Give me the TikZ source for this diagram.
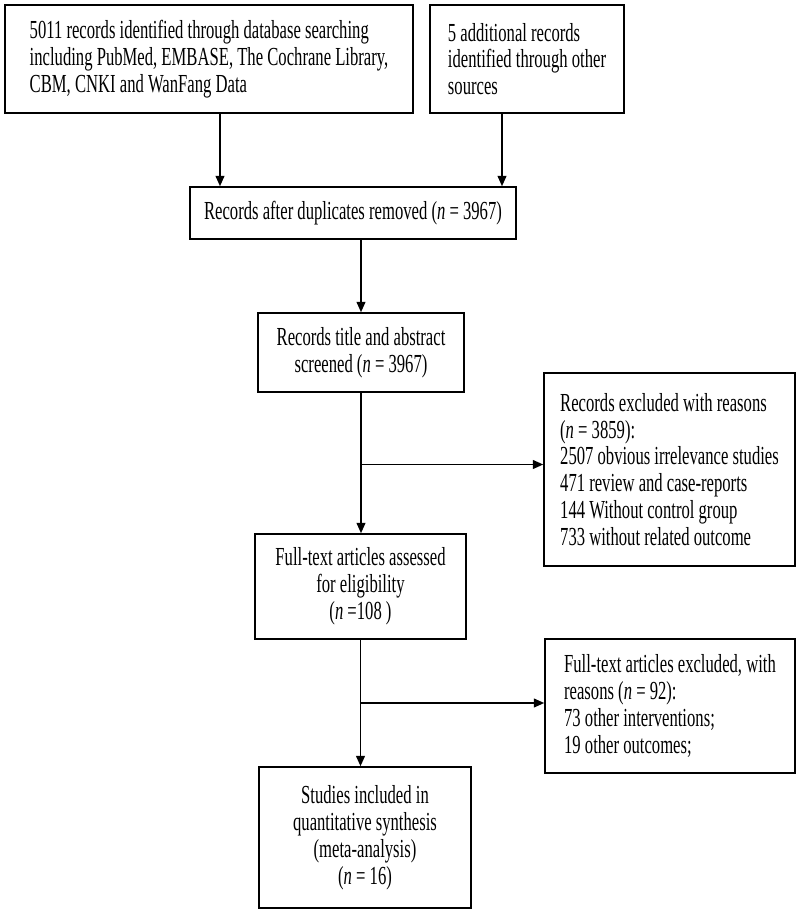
\documentclass[tikz,border=0pt]{standalone}
\usepackage{fontspec}
\setmainfont{Liberation Serif}[FakeStretch=0.64]
\usepackage{tikz}
\usetikzlibrary{arrows.meta}

\tikzset{
  box/.style={draw, line width=0.8pt, inner sep=0pt,
    font=\fontsize{14.8}{15.3}\selectfont},
  arr/.style={line width=1.1pt, -{Triangle[length=6pt,width=5pt]}}
}

\begin{document}
\begin{tikzpicture}
  \useasboundingbox (0,0) rectangle (16,-18.28);

  % Identification
  \node[box, minimum width=8.16cm, minimum height=2.16cm, align=left] (ident) at (4.18,-1.18)
    {5011 records identified through database searching\\including PubMed, EMBASE, The Cochrane Library,\\CBM, CNKI and WanFang Data};
  \node[box, minimum width=3.88cm, minimum height=2.16cm, align=left] (other) at (10.54,-1.18)
    {5 additional records\\identified through other\\sources};

  % Screening
  \node[box, minimum width=6.52cm, minimum height=1.04cm, align=center] (dupl) at (7.06,-4.26)
    {Records after duplicates removed (\textit{n} = 3967)};
  \node[box, minimum width=4.12cm, minimum height=1.58cm, align=center] (screen) at (7.22,-7.05)
    {Records title and abstract\\screened (\textit{n} = 3967)};
  \node[box, minimum width=5.02cm, minimum height=3.86cm, align=left] (excl) at (13.39,-9.39)
    {Records excluded with reasons\\(\textit{n} = 3859):\\2507 obvious irrelevance studies\\471 review and case-reports\\144 Without control group\\733 without related outcome};

  % Eligibility
  \node[box, minimum width=4.22cm, minimum height=2.10cm, align=center] (full) at (7.21,-11.73)
    {Full-text articles assessed\\for eligibility\\(\textit{n} =108 )};
  \node[box, minimum width=5.00cm, minimum height=2.68cm, align=left] (fullexcl) at (13.40,-14.12)
    {Full-text articles excluded, with\\reasons (\textit{n} = 92):\\73 other interventions;\\19 other outcomes;};

  % Included
  \node[box, minimum width=4.24cm, minimum height=2.82cm, align=center] (incl) at (7.30,-16.75)
    {Studies included in\\quantitative synthesis\\(meta-analysis)\\(\textit{n} = 16)};

  % Arrows
  \draw[arr] ([xshift=0.22cm]ident.south) -- ([xshift=0.22cm]ident.south |- dupl.north);
  \draw[arr] ([xshift=-0.5cm]other.south) -- ([xshift=-0.5cm]other.south |- dupl.north);
  \draw[arr] (screen.north |- dupl.south) -- (screen.north);
  \draw[arr] (screen.south) -- (screen.south |- full.north);
  \draw[arr] ([yshift=0.1cm]excl.west -| screen.south) -- ([yshift=0.1cm]excl.west);
  \draw[arr] (full.south) -- (full.south |- incl.north);
  \draw[arr] ([yshift=0.06cm]fullexcl.west -| full.south) -- ([yshift=0.06cm]fullexcl.west);
\end{tikzpicture}
\end{document}
